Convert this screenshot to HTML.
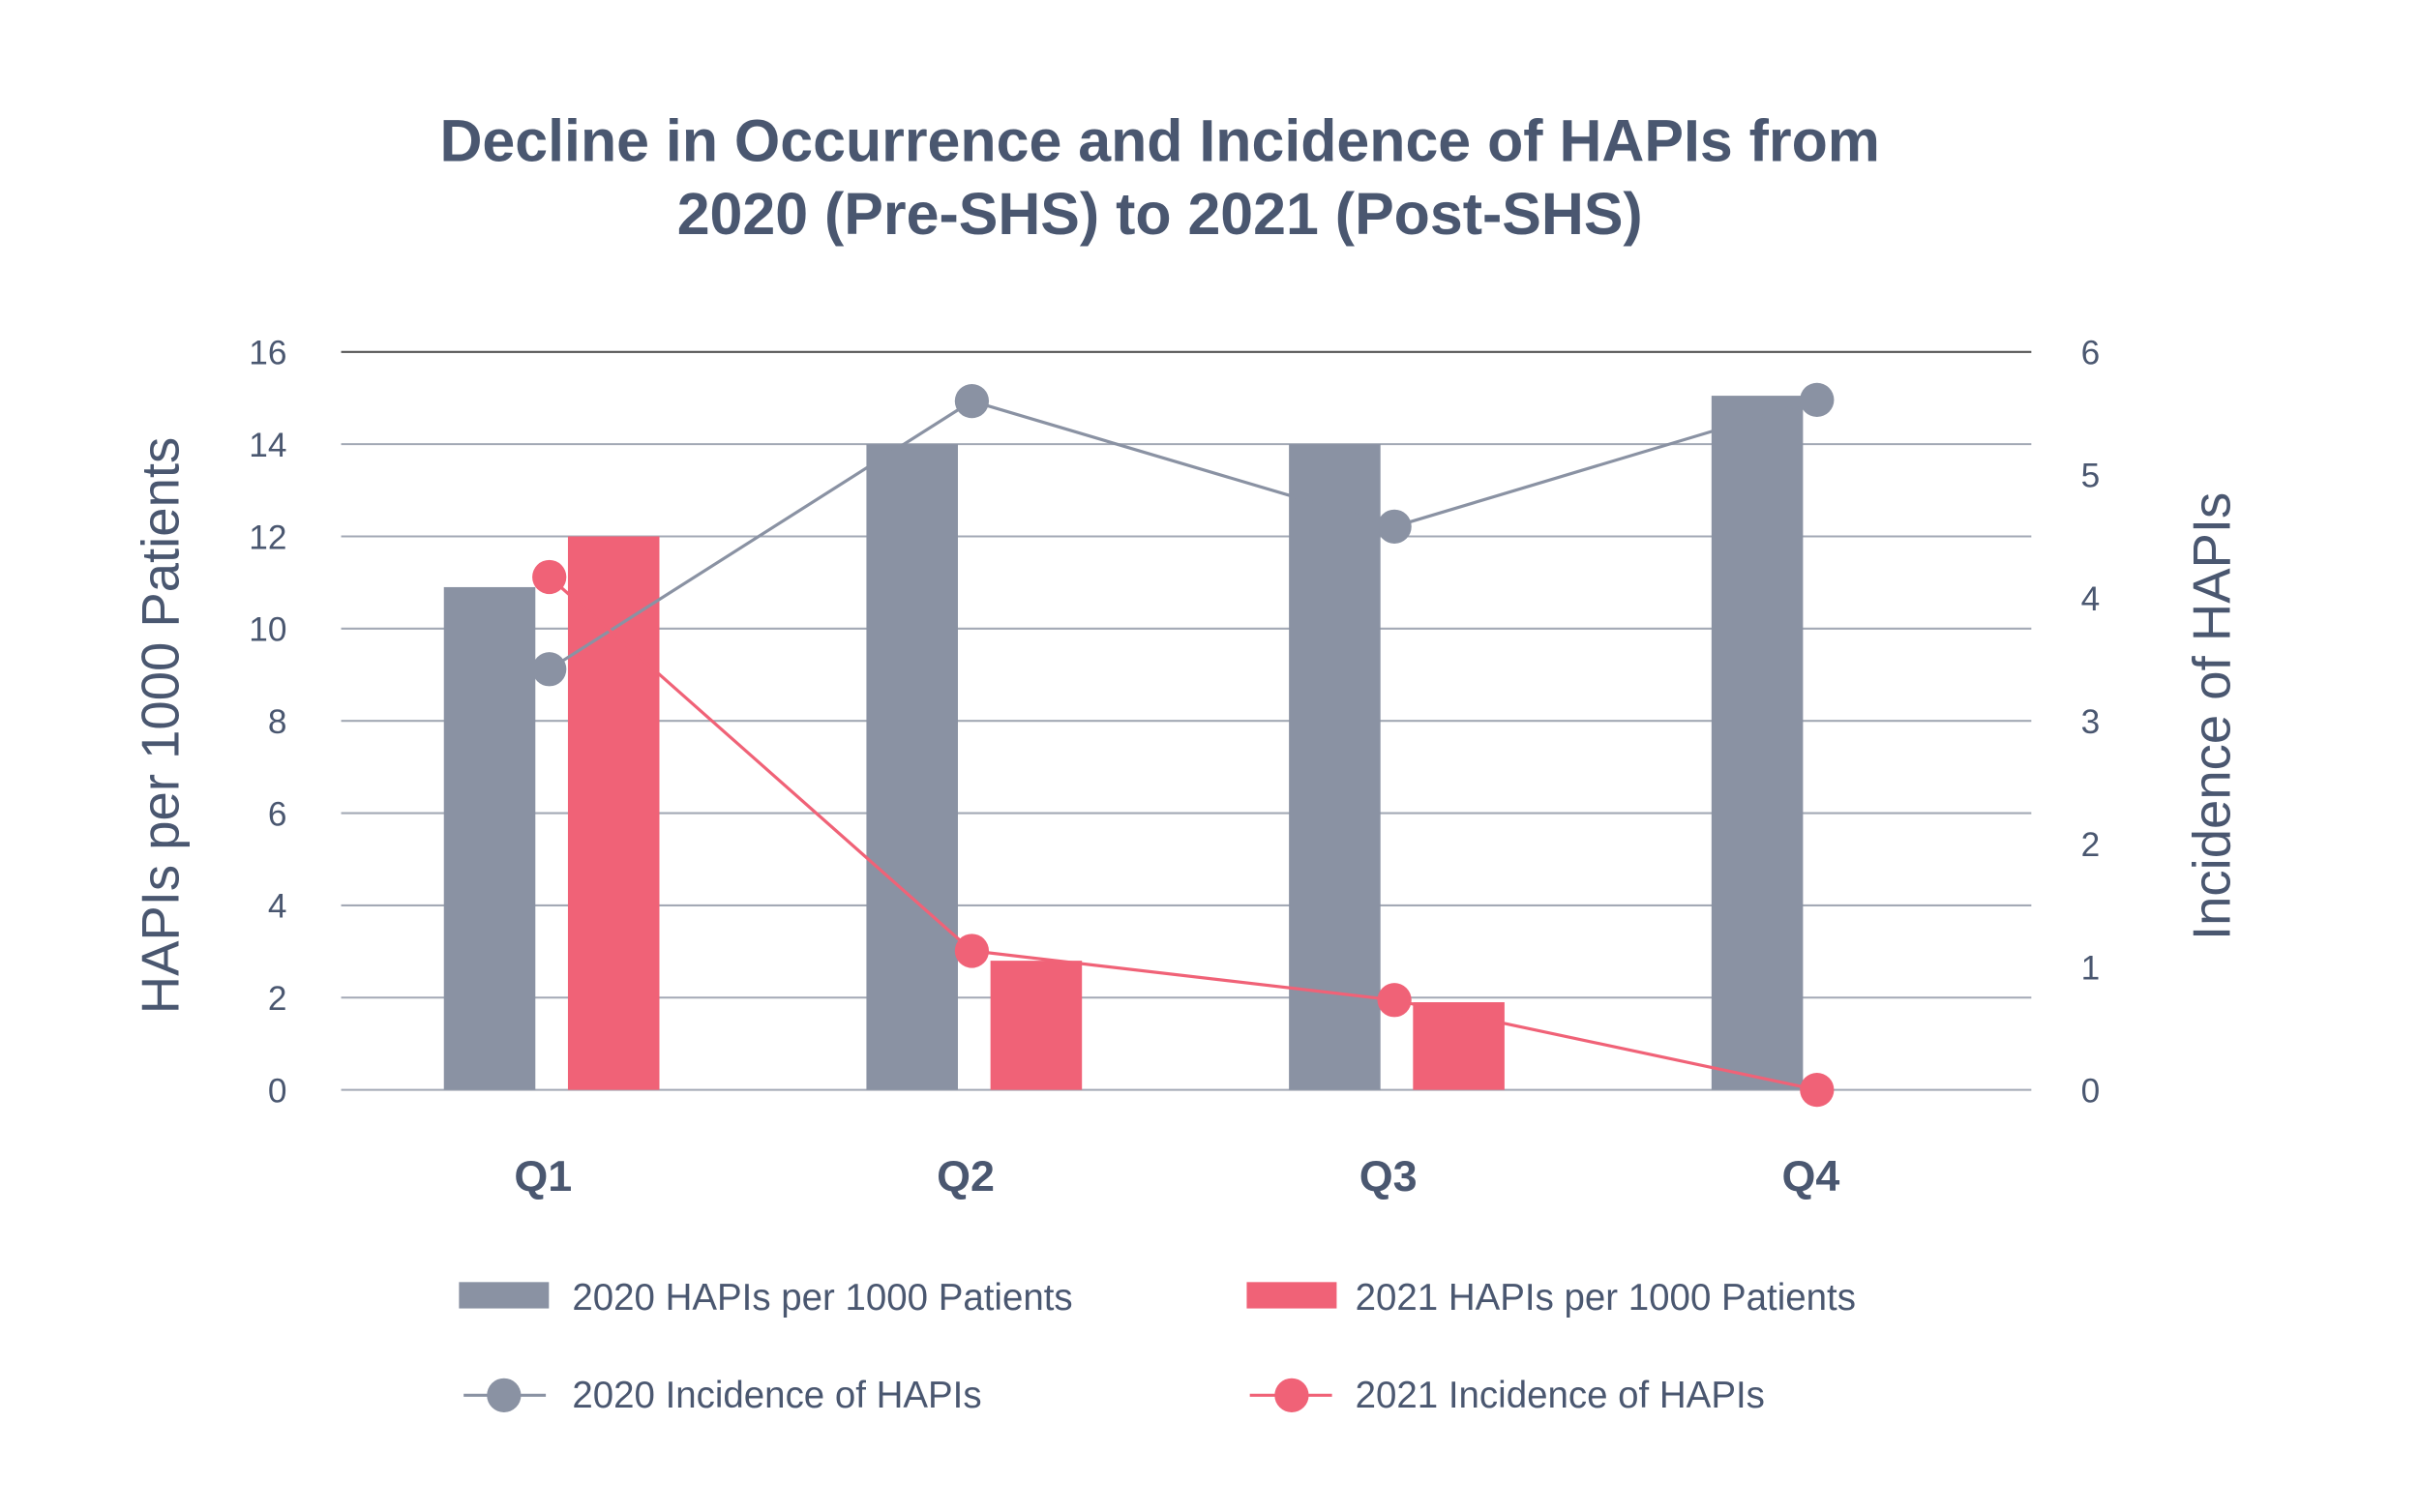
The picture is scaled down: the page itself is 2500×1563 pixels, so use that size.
<!DOCTYPE html>
<html><head><meta charset="utf-8"><style>
html,body{margin:0;padding:0;background:#fff;}
svg{display:block;font-family:"Liberation Sans",sans-serif;}
</style></head><body>
<svg id="chart" width="2500" height="1563" viewBox="0 0 1560 975.3" xmlns="http://www.w3.org/2000/svg">
<text x="748" y="104" text-anchor="middle" font-size="38" font-weight="bold" fill="#4a5770">Decline in Occurrence and Incidence of HAPIs from</text>
<text x="748" y="151" text-anchor="middle" font-size="38" font-weight="bold" fill="#4a5770">2020 (Pre-SHS) to 2021 (Post-SHS)</text>
<text transform="translate(115,468) rotate(-90)" text-anchor="middle" font-size="34" fill="#4a5770">HAPIs per 1000 Patients</text>
<text transform="translate(1438,462) rotate(-90)" text-anchor="middle" font-size="34" fill="#4a5770">Incidence of HAPIs</text>
<g id="grid"></g><g id="bars"></g><g id="lines"></g><g id="axes"></g>
<g font-size="24" fill="#4a5770">
<rect x="296" y="827" width="58" height="17" fill="#8a92a3"/>
<text x="369" y="845">2020 HAPIs per 1000 Patients</text>
<rect x="804" y="827" width="58" height="17" fill="#f06277"/>
<text x="874" y="845">2021 HAPIs per 1000 Patients</text>
<line x1="299" y1="900" x2="352" y2="900" stroke="#8a92a3" stroke-width="2"/>
<circle cx="325" cy="900" r="11" fill="#8a92a3"/>
<text x="369" y="908">2020 Incidence of HAPIs</text>
<line x1="806" y1="900" x2="859" y2="900" stroke="#f06277" stroke-width="2"/>
<circle cx="833" cy="900" r="11" fill="#f06277"/>
<text x="874" y="908">2021 Incidence of HAPIs</text>
</g>
</svg>
<script>
const categories=["Q1","Q2","Q3","Q4"];
const bars2020=[10.9,14,14,15.05];
const bars2021=[12,2.8,1.9,0];
const inc2020=[3.42,5.6,4.58,5.61];
const inc2021=[4.17,1.13,0.73,0];
const leftTicks=[0,2,4,6,8,10,12,14,16];
const rightTicks=[0,1,2,3,4,5,6];
const NS="http://www.w3.org/2000/svg";
const X0=220,X1=1310,Y0=703,Y1=227;
const band=(X1-X0)/categories.length;
const xc=i=>X0+band*(i+0.5);
const yL=v=>Y0-(v/16)*(Y0-Y1);
const yR=v=>Y0-(v/6)*(Y0-Y1);
function mk(tag,attrs,parent){const e=document.createElementNS(NS,tag);for(const k in attrs)e.setAttribute(k,attrs[k]);document.getElementById(parent).appendChild(e);return e;}
leftTicks.forEach(t=>{
 const l=mk('line',{x1:X0,x2:X1,y1:yL(t),y2:yL(t),stroke:t==16?'#555':'#a3a9b5','stroke-width':1.3},'grid');
 
 
 const tx=mk('text',{x:185,y:yL(t)+8,'text-anchor':'end','font-size':22,fill:'#4a5770'},'axes');
 tx.textContent=t;
 
 
});
rightTicks.forEach(t=>{
 const tx=mk('text',{x:1342,y:yR(t)+8,'font-size':22,fill:'#4a5770'},'axes');
 tx.textContent=t;
 
 
});
categories.forEach((c,i)=>{
 const tx=mk('text',{x:xc(i)-6,y:768,'text-anchor':'middle','font-size':28,'font-weight':'bold',fill:'#4a5770'},'axes');
 tx.textContent=c;
 
 
 const b1=mk('rect',{x:xc(i)-70,y:yL(bars2020[i]),width:59,height:Y0-yL(bars2020[i]),fill:'#8a92a3'},'bars');
 
 
 const b2=mk('rect',{x:xc(i)+10,y:yL(bars2021[i]),width:59,height:Y0-yL(bars2021[i]),fill:'#f06277'},'bars');
 
 
});
function series(vals,color,name){
 const pl=mk('polyline',{points:vals.map((v,i)=>(xc(i)-2)+','+yR(v)).join(' '),fill:'none',stroke:color,'stroke-width':2},'lines');
 
 
 vals.forEach((v,i)=>{
  const c=mk('circle',{cx:xc(i)-2,cy:yR(v),r:11,fill:color},'lines');
  
  
 });
}
series(inc2020,'#8a92a3','incidence-2020');
series(inc2021,'#f06277','incidence-2021');
</script>
</body></html>
